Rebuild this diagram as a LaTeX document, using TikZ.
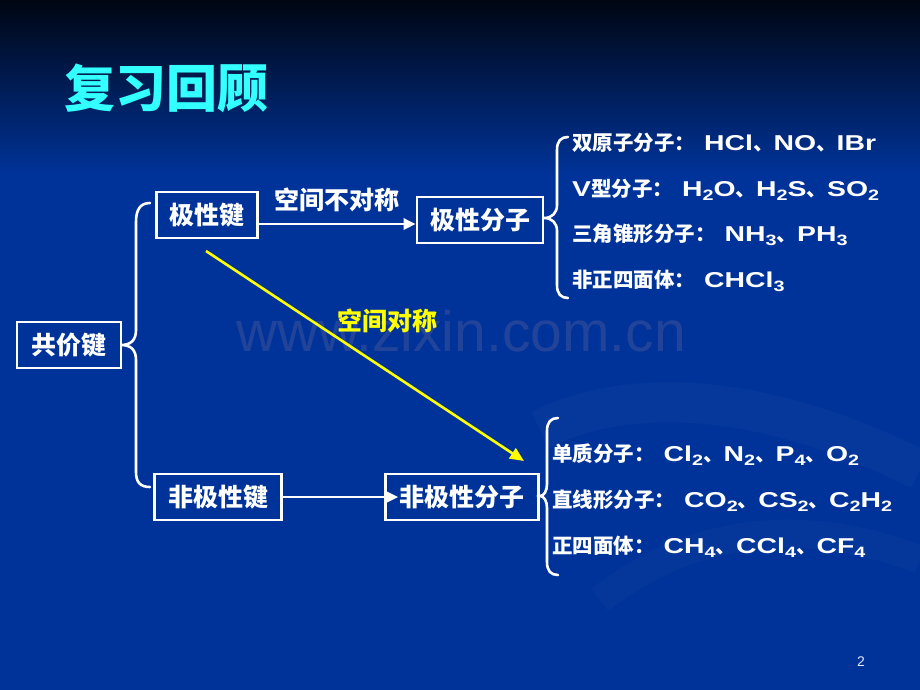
\documentclass[tikz,border=0pt]{standalone}
\usepackage{fontspec}
\setmainfont{Noto Sans CJK SC}
\newfontfamily\arf{Liberation Sans}[FakeStretch=1.32]
\newfontfamily\arn{Liberation Sans}
\usetikzlibrary{arrows.meta,calc}
\definecolor{bg}{HTML}{003399}
\definecolor{bgtop}{HTML}{000612}
\definecolor{ttl}{HTML}{33FFFF}
\definecolor{yel}{HTML}{FFFF00}
\definecolor{wm}{HTML}{21449A}
\newcommand\lat[1]{{\arf\bfseries\fontsize{21.5}{21.5}\selectfont #1}}
\newcommand\sbs[1]{\raisebox{-4.5pt}{\fontsize{15}{15}\selectfont #1}}
\newcommand\cs{\hspace{9pt}}
\tikzset{
  box/.style={draw=white, line width=2.6pt, text=white, inner sep=0pt,
    minimum height=46pt, font=\fontsize{25}{25}\selectfont\bfseries},
  lbl/.style={text=white, inner sep=0pt, font=\fontsize{25}{25}\selectfont\bfseries},
  item/.style={text=white, inner sep=0pt, anchor=base west,
    font=\fontsize{20.5}{20.5}\selectfont\bfseries},
  conn/.style={draw=white, line width=2.6pt, -{Triangle[length=12pt,width=11pt]}},
  brace/.style={draw=white, line width=2.6pt, line cap=round}
}
\begin{document}
\begin{tikzpicture}[x=1pt,y=-1pt]
\useasboundingbox (0,0) rectangle (920,690);
\fill[bg] (0,0) rectangle (920,690);
\shade[top color=bgtop, bottom color=bg] (0,0) rectangle (920,175);
% faint swirls
\draw[white, opacity=0.025, line width=40pt] (540,430) .. controls (640,380) and (780,400) .. (920,470);
\draw[white, opacity=0.02, line width=28pt] (600,600) .. controls (700,520) and (820,520) .. (920,560);
% watermark
\node[anchor=base, text=wm, inner sep=0pt, font=\arn\fontsize{57}{57}\selectfont] (wmk) at (461,351) {www.zixin.com.cn};
% title
\node[text=ttl, inner sep=0pt, font=\fontsize{51}{51}\selectfont\bfseries] (title) at (166,88) {复习回顾};
% boxes
\node[box, minimum width=104pt] (gjj) at (69,345) {共价键};
\node[box, minimum width=101pt] (jxj) at (207,215) {极性键};
\node[box, minimum width=126pt] (jxfz) at (480,220) {极性分子};
\node[box, minimum width=127pt] (fjxj) at (218,497) {非极性键};
\node[box, minimum width=153pt] (fjxfz) at (462,497) {非极性分子};
% arrows
\draw[conn] (jxj.east |- 0,224) -- ([yshift=-4pt]jxfz.west);
\node[lbl] (l1) at (337,200) {空间不对称};
\draw[conn] (fjxj.east) -- ([xshift=14pt]fjxfz.west);
\coordinate (ys) at (206,251);
\coordinate (ye) at (524,461);
\draw[draw=yel, line width=2.6pt, -{Triangle[length=14pt,width=12pt]}] (ys) -- (ye);
\node[lbl, text=yel] (l2) at (387,321) {空间对称};
% brace left
\draw[brace] (150,203) .. controls (140,203) and (136,210) .. (136,222) -- (136,330)
  .. controls (136,340) and (131,345) .. (121,345)
  .. controls (131,345) and (136,350) .. (136,360) -- (136,472)
  .. controls (136,482) and (140,487) .. (150,487);
% brace top right
\draw[brace] (568,137) .. controls (561,137) and (557,141) .. (557,150) -- (557,205)
  .. controls (557,213) and (552,218) .. (544,218)
  .. controls (552,218) and (557,223) .. (557,231) -- (557,285)
  .. controls (557,294) and (561,298) .. (568,298);
% brace bottom right
\draw[brace] (558,418) .. controls (551,418) and (547,422) .. (547,431) -- (547,484)
  .. controls (547,491) and (544,496) .. (540,496)
  .. controls (544,496) and (547,501) .. (547,508) -- (547,562)
  .. controls (547,571) and (551,575) .. (558,575);
% top list
\node[item] (t1) at (572,150) {双原子分子：\cs\lat{HCl}、\lat{NO}、\lat{IBr}};
\node[item] (t2) at (572,196) {\lat{V}型分子：\cs\lat{H\sbs{2}O}、\lat{H\sbs{2}S}、\lat{SO\sbs{2}}};
\node[item] (t3) at (572,241) {三角锥形分子：\cs\lat{NH\sbs{3}}、\lat{PH\sbs{3}}};
\node[item] (t4) at (572,287) {非正四面体：\cs\lat{CHCl\sbs{3}}};
% bottom list
\node[item] (b1) at (552,461) {单质分子：\cs\lat{Cl\sbs{2}}、\lat{N\sbs{2}}、\lat{P\sbs{4}}、\lat{O\sbs{2}}};
\node[item] (b2) at (552,507) {直线形分子：\cs\lat{CO\sbs{2}}、\lat{CS\sbs{2}}、\lat{C\sbs{2}H\sbs{2}}};
\node[item] (b3) at (552,553) {正四面体：\cs\lat{CH\sbs{4}}、\lat{CCl\sbs{4}}、\lat{CF\sbs{4}}};
% page number
\node[text=white!90!blue, inner sep=0pt, font=\arn\fontsize{14}{14}\selectfont] (pg) at (861,662) {2};
\end{tikzpicture}
\end{document}
